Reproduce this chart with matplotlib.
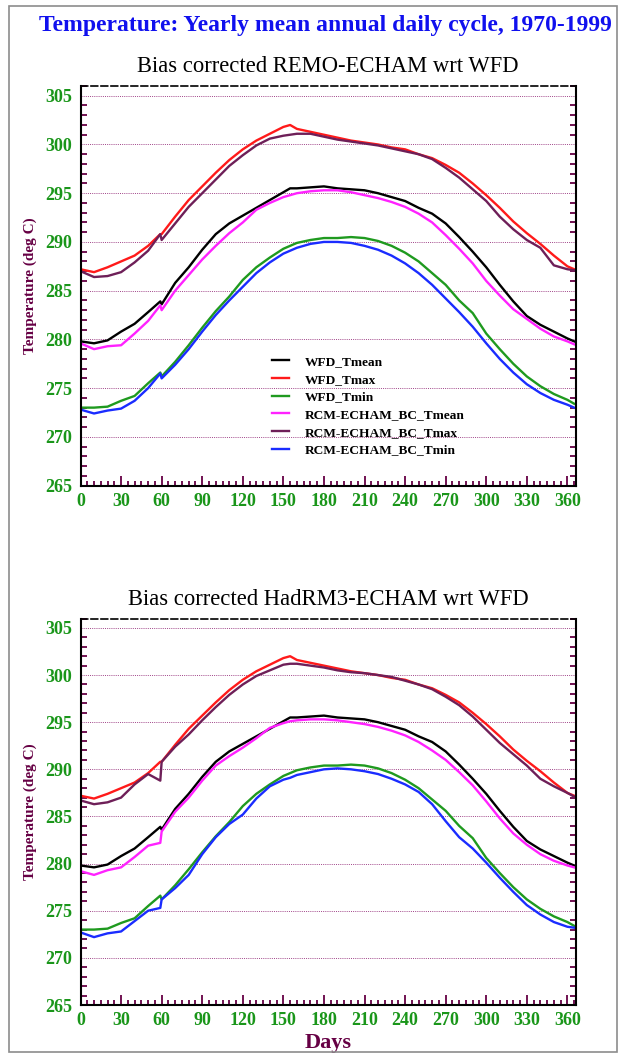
import matplotlib
matplotlib.use("Agg")
import matplotlib.pyplot as plt
from matplotlib.patches import Rectangle
from matplotlib.ticker import MultipleLocator

days = [0, 10, 20, 30, 40, 50, 59, 60, 70, 80, 90, 100, 110, 120, 130, 140, 150, 155, 160,
        170, 180, 190, 200, 210, 220, 230, 240, 250, 260, 270, 280, 290, 300, 310, 320,
        330, 340, 350, 360, 365]

# WFD observations (same in both panels)
wfd_tmean = [279.8, 279.6, 279.9, 280.8, 281.6, 282.8, 283.9, 283.6, 285.8, 287.4, 289.2,
             290.8, 291.9, 292.7, 293.5, 294.3, 295.1, 295.5, 295.5, 295.6, 295.7, 295.5,
             295.4, 295.3, 295.0, 294.6, 294.2, 293.5, 292.9, 291.9, 290.5, 289.0, 287.4,
             285.6, 283.9, 282.4, 281.5, 280.8, 280.1, 279.8]
wfd_tmax = [287.2, 286.9, 287.4, 288.0, 288.6, 289.6, 290.8, 290.8, 292.6, 294.3, 295.7,
            297.1, 298.4, 299.5, 300.4, 301.1, 301.8, 302.0, 301.6, 301.3, 301.0, 300.7,
            300.4, 300.2, 300.0, 299.7, 299.5, 299.0, 298.6, 297.9, 297.1, 296.0, 294.8,
            293.5, 292.1, 290.9, 289.8, 288.6, 287.5, 287.2]
wfd_tmin = [273.0, 273.0, 273.1, 273.7, 274.2, 275.5, 276.6, 276.2, 277.7, 279.4, 281.2,
            282.9, 284.4, 286.1, 287.4, 288.4, 289.3, 289.6, 289.9, 290.2, 290.4, 290.4,
            290.5, 290.4, 290.1, 289.6, 288.9, 288.0, 286.8, 285.6, 284.0, 282.7, 280.6,
            279.0, 277.5, 276.2, 275.2, 274.4, 273.8, 273.4]

# Bias corrected REMO-ECHAM
remo_tmean = [279.6, 279.0, 279.3, 279.4, 280.6, 281.9, 283.5, 283.0, 285.0, 286.6, 288.2,
              289.6, 290.9, 292.0, 293.3, 294.0, 294.6, 294.8, 295.0, 295.2, 295.3, 295.3,
              295.1, 294.8, 294.5, 294.1, 293.6, 292.9, 292.0, 290.7, 289.3, 287.8, 286.0,
              284.5, 283.1, 282.1, 281.1, 280.3, 279.8, 279.5]
remo_tmax = [287.0, 286.4, 286.5, 286.9, 287.9, 289.1, 290.8, 290.2, 291.9, 293.6, 295.0,
             296.4, 297.8, 298.9, 299.9, 300.6, 300.9, 301.0, 301.1, 301.1, 300.8, 300.5,
             300.3, 300.1, 299.9, 299.6, 299.3, 299.0, 298.5, 297.6, 296.6, 295.4, 294.2,
             292.6, 291.3, 290.2, 289.4, 287.6, 287.2, 287.1]
remo_tmin = [272.8, 272.4, 272.7, 272.9, 273.7, 275.0, 276.5, 276.0, 277.4, 279.0, 280.8,
             282.5, 284.0, 285.4, 286.8, 287.9, 288.8, 289.1, 289.4, 289.8, 290.0, 290.0,
             289.9, 289.6, 289.2, 288.6, 287.8, 286.8, 285.6, 284.2, 282.8, 281.3, 279.6,
             278.0, 276.6, 275.4, 274.5, 273.8, 273.3, 273.0]

# Bias corrected HadRM3-ECHAM
had_tmean = [279.2, 278.8, 279.3, 279.6, 280.7, 281.9, 282.2, 283.4, 285.5, 287.0, 288.8,
             290.4, 291.4, 292.3, 293.3, 294.4, 294.9, 295.1, 295.2, 295.3, 295.3, 295.2,
             295.0, 294.8, 294.5, 294.1, 293.6, 292.9, 292.0, 291.0, 289.7, 288.3, 286.6,
             284.8, 283.2, 282.0, 281.0, 280.3, 279.8, 279.6]
had_tmax = [286.7, 286.3, 286.5, 287.0, 288.4, 289.5, 288.8, 290.8, 292.4, 293.7, 295.2,
            296.6, 297.9, 299.0, 299.9, 300.5, 301.1, 301.2, 301.2, 301.0, 300.8, 300.5,
            300.3, 300.2, 300.0, 299.8, 299.4, 299.0, 298.5, 297.7, 296.8, 295.6, 294.2,
            292.8, 291.6, 290.4, 289.0, 288.2, 287.5, 287.1]
had_tmin = [272.7, 272.2, 272.6, 272.8, 273.9, 275.0, 275.3, 276.2, 277.4, 278.8, 281.0,
            282.8, 284.2, 285.2, 286.9, 288.2, 288.9, 289.1, 289.4, 289.7, 290.0, 290.1,
            290.0, 289.8, 289.5, 289.0, 288.4, 287.6, 286.3, 284.5, 282.8, 281.6, 280.1,
            278.5, 277.0, 275.6, 274.6, 273.8, 273.3, 273.2]

labels = ["WFD_Tmean", "WFD_Tmax", "WFD_Tmin",
          "RCM-ECHAM_BC_Tmean", "RCM-ECHAM_BC_Tmax", "RCM-ECHAM_BC_Tmin"]
colors = ["black", "#ff1a1a", "#1f9a1f", "#ff22ff", "#6e1f58", "#1a2cff"]

xticks = list(range(0, 361, 30))
yticks = list(range(265, 306, 5))

maroon = "#660044"
tickgreen = "#1a961a"

plt.rcParams["font.family"] = ["Liberation Serif", "DejaVu Serif"]

W, H = 621, 1055
fig = plt.figure(figsize=(W / 100, H / 100), dpi=100)

# outer grey frame
fig.patches.append(Rectangle((9 / W, 3 / H), 608 / W, 1046 / H, transform=fig.transFigure,
                             fill=False, edgecolor="#8c8c8c", lw=1.2))

fig.text(325 / W, 1 - 25 / H, "Temperature: Yearly mean annual daily cycle, 1970-1999",
         ha="center", va="center", color="#1010ee", fontsize=17, fontweight="bold")


def draw_panel(rect, title, rcm, legend=False):
    ax = fig.add_axes(rect)
    series = [wfd_tmean, wfd_tmax, wfd_tmin] + rcm
    for vals, lab, col in zip(series, labels, colors):
        ax.plot(days, vals, color=col, lw=1.7, label=lab)
    ax.set_xlim(0, 366)
    ax.set_ylim(265, 306)
    ax.set_xticks(xticks)
    ax.set_yticks(yticks)
    ax.xaxis.set_minor_locator(MultipleLocator(5))
    ax.yaxis.set_minor_locator(MultipleLocator(1))
    for y in yticks[1:]:
        ax.axhline(y, color="#a04488", lw=0.7, ls=(0, (1, 1.2)), zorder=0)
    ax.tick_params(axis="both", which="both", direction="in", color=maroon, width=1.3,
                   labelcolor=tickgreen, labelsize=13)
    ax.tick_params(axis="x", which="major", length=7, pad=5)
    ax.tick_params(axis="x", which="minor", length=3.5)
    ax.tick_params(axis="y", which="major", length=0, pad=6)
    ax.tick_params(axis="y", which="minor", length=4, right=True)
    for lab in ax.get_xticklabels() + ax.get_yticklabels():
        lab.set_fontweight("bold")
    for s in ["left", "right", "bottom"]:
        ax.spines[s].set_linewidth(1.5)
    ax.spines["top"].set_linestyle((0, (4, 2)))
    ax.spines["top"].set_linewidth(1.2)
    ax.set_ylabel("Temperature (deg C)", color=maroon, fontsize=11, fontweight="bold",
                  labelpad=6)
    ax.set_title(title, fontsize=16.3, pad=10)
    if legend:
        ax.legend(loc="upper left", bbox_to_anchor=(0.362, 0.355), frameon=False,
                  handlelength=1.3, handletextpad=1.2, labelspacing=0.4,
                  prop={"weight": "bold", "size": 9.6})
    return ax


ax1 = draw_panel([80.5 / W, 1 - 485.6 / H, 495 / W, 399.6 / H],
                 "Bias corrected REMO-ECHAM wrt WFD",
                 [remo_tmean, remo_tmax, remo_tmin], legend=True)
ax2 = draw_panel([80.5 / W, 1 - 1005 / H, 495 / W, 386.5 / H],
                 "Bias corrected HadRM3-ECHAM wrt WFD",
                 [had_tmean, had_tmax, had_tmin])
ax2.set_xlabel("Days", color=maroon, fontsize=16, fontweight="bold", labelpad=3)

fig.savefig("out.png", dpi=100)
